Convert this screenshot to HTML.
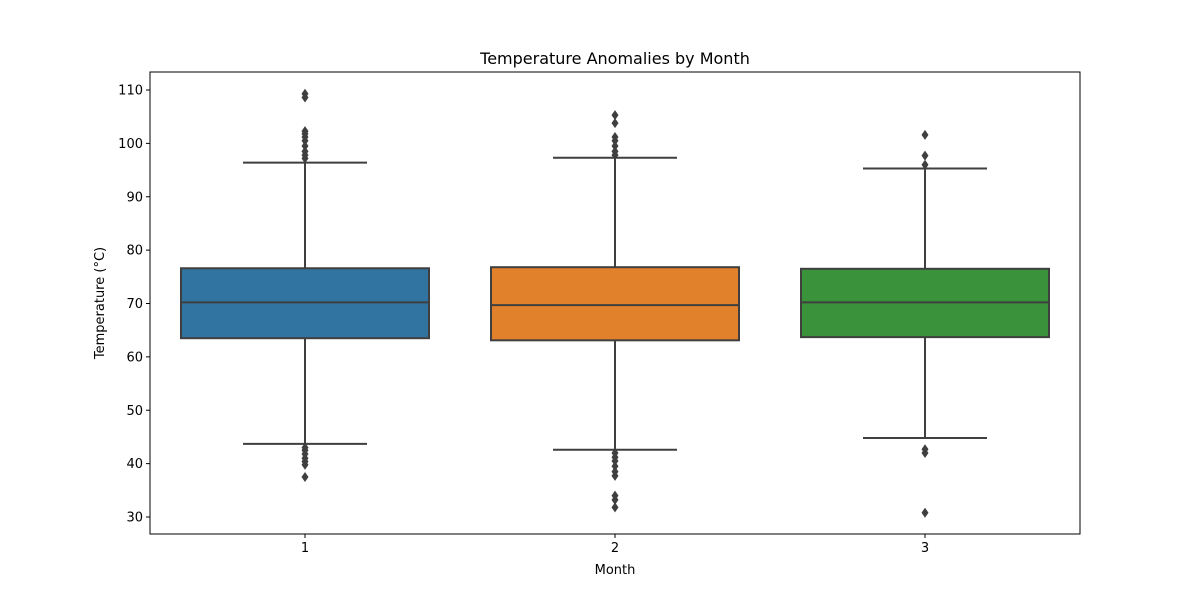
<!DOCTYPE html>
<html><head><meta charset="utf-8"><style>body{margin:0;background:#fff}svg text{font-family:"DejaVu Sans","Liberation Sans",sans-serif;fill:#000}</style></head>
<body>
<svg id="c" width="1200" height="600" xmlns="http://www.w3.org/2000/svg"></svg>
<script>
const categories=["1","2","3"];
const q1=[63.5,63.1,63.7];
const medians=[70.2,69.7,70.2];
const q3=[76.6,76.8,76.5];
const whiskLo=[43.7,42.6,44.8];
const whiskHi=[96.4,97.3,95.3];
const outliers1=[109.3,108.6,102.3,101.8,101.2,100.5,99.5,98.5,97.8,97.2,43.0,42.5,41.8,41.0,40.4,39.8,37.5];
const outliers2=[105.3,103.8,101.2,100.5,99.5,98.5,97.8,42.0,41.2,40.5,39.5,38.5,37.7,34.0,33.2,31.8];
const outliers3=[101.6,97.7,96.0,42.7,42.0,30.8];
const yTicks=[30,40,50,60,70,80,90,100,110];
const colors=["#3274a1","#e1812c","#3a923a"];
const NS="http://www.w3.org/2000/svg",svg=document.getElementById('c');
const L=150,R=1080,T=72,B=534;
const y=v=>517-(v-30)*(427/80);
const bw=(R-L)/categories.length;
const x=i=>L+bw*(i+0.5);
function mk(t,a,txt){const e=document.createElementNS(NS,t);for(const k in a)e.setAttribute(k,a[k]);if(txt!=null)e.textContent=txt;svg.appendChild(e);return e;}
const outs=[outliers1,outliers2,outliers3];
const ec="#3f3f3f";
categories.forEach((c,i)=>{
 const cx=x(i),hw=bw*0.4;
 let e=mk('line',{x1:cx,x2:cx,y1:y(q1[i]),y2:y(whiskLo[i]),stroke:ec,'stroke-width':2});
 
 e=mk('line',{x1:cx,x2:cx,y1:y(q3[i]),y2:y(whiskHi[i]),stroke:ec,'stroke-width':2});
 
 e=mk('line',{x1:cx-hw/2,x2:cx+hw/2,y1:y(whiskLo[i]),y2:y(whiskLo[i]),stroke:ec,'stroke-width':2});
 
 e=mk('line',{x1:cx-hw/2,x2:cx+hw/2,y1:y(whiskHi[i]),y2:y(whiskHi[i]),stroke:ec,'stroke-width':2});
 
 e=mk('rect',{x:cx-hw,y:y(q3[i]),width:2*hw,height:y(q1[i])-y(q3[i]),fill:colors[i],stroke:ec,'stroke-width':2});
 
 e=mk('line',{x1:cx-hw,x2:cx+hw,y1:y(medians[i]),y2:y(medians[i]),stroke:ec,'stroke-width':2});
 
 outs[i].forEach(v=>{const yy=y(v);
  const p=mk('polygon',{points:`${cx},${yy-5} ${cx+3.5},${yy} ${cx},${yy+5} ${cx-3.5},${yy}`,fill:ec});
  });
 const tk=mk('line',{x1:cx,x2:cx,y1:B,y2:B+4,stroke:'#000'});
 
 const tl=mk('text',{x:cx,y:B+18,'text-anchor':'middle','font-size':13},c);
 
});
yTicks.forEach(v=>{
 const tk=mk('line',{x1:L-4,x2:L,y1:y(v),y2:y(v),stroke:'#000'});
 
 const tl=mk('text',{x:L-7,y:y(v)+4.5,'text-anchor':'end','font-size':13},v);
 
});
let f=mk('rect',{x:L,y:T,width:R-L,height:B-T,fill:'none',stroke:'#000','stroke-width':1});

let t=mk('text',{x:(L+R)/2,y:64,'text-anchor':'middle','font-size':16},'Temperature Anomalies by Month');

t=mk('text',{x:(L+R)/2,y:574,'text-anchor':'middle','font-size':13},'Month');

t=mk('text',{x:104,y:(T+B)/2,'text-anchor':'middle','font-size':13,transform:`rotate(-90 104 ${(T+B)/2})`},'Temperature (°C)');

</script>
</body></html>
